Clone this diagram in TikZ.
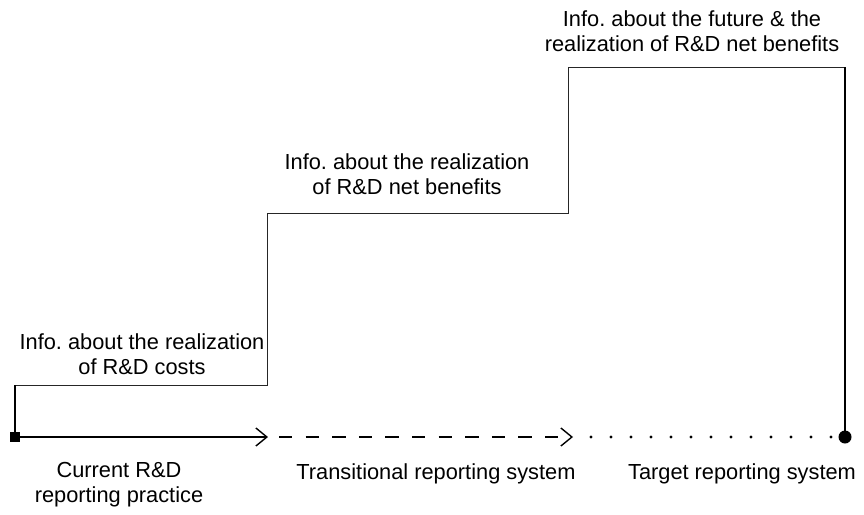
\documentclass[tikz,border=0pt]{standalone}
\usepackage{fontspec}
\setmainfont{Liberation Sans}
\usetikzlibrary{arrows.meta,positioning}
\frenchspacing

\begin{document}
\begin{tikzpicture}[x=1pt,y=-1pt,
    lbl/.style={align=center,font=\fontsize{21.8}{25}\selectfont,inner sep=0pt},
    stair/.style={line width=0.9pt,black!85},
    axis/.style={line width=1.4pt},
    tip/.style={-{Straight Barb[length=11pt,width=18pt,line width=1.4pt]}}]
  \useasboundingbox (0,0) rectangle (864,514);
  % end points of the time line
  \node [fill,minimum size=10pt,inner sep=0pt] (start) at (15,437) {};
  \node [circle,fill,minimum size=13pt,inner sep=0pt] (goal) at (845,437) {};
  \coordinate (m1) at (268,437);
  \coordinate (m2) at (279,437);
  \coordinate (m3) at (573,437);
  \coordinate (m4) at (591,437);
  % corners of the steps
  \coordinate (c1) at (267,385);
  \coordinate (c2) at (568,213);
  \coordinate (c3) at (845,67);
  \draw [stair] (start.center) |- (c1) |- (c2) |- (c3) -- (goal.center);
  \draw [axis] (start.center) -- (start.center |- c1);
  \draw [axis] (c3) -- (goal.center);
  % time line
  \draw [axis,tip] (start.center) -- (m1);
  \draw [axis,tip,dash pattern=on 13.3pt off 13.3pt] (m2) -- (m3);
  \draw [line width=3.2pt,line cap=round,dash pattern=on 0pt off 20pt] (m4) -- (goal.center);
  % labels
  \node [lbl] (info1) at (142,354.5) {Info. about the realization\\of R\&D costs};
  \node [lbl] (info2) at (407,174.5) {Info. about the realization\\of R\&D net benefits};
  \node [lbl] (info3) at (692,31.5) {Info. about the future \& the\\realization of R\&D net benefits};
  \node [lbl] (stage1) at (119,484.5) {Current R\&D\\reporting practice};
  \node [lbl,anchor=base] (stage2) at (436,479) {Transitional reporting system};
  \node [lbl,anchor=base] (stage3) at (742,479) {Target reporting system};
\end{tikzpicture}
\end{document}
